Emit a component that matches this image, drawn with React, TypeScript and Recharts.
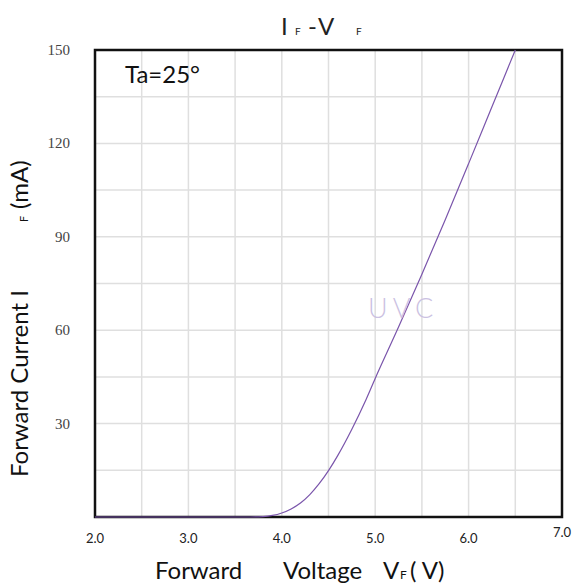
import React from "react";
import {
  LineChart,
  Line,
  XAxis,
  YAxis,
  CartesianGrid,
  ReferenceArea,
} from "recharts";

// forward voltage (V) and forward current (mA)
const voltage = [
  2.0, 3.0, 3.6, 3.8, 3.9, 4.0, 4.1, 4.2, 4.3, 4.4, 4.5, 4.6, 4.75, 4.9, 5.0,
  5.25, 5.5, 5.75, 6.0, 6.25, 6.5,
];
const current = [
  0, 0, 0, 0.15, 0.5, 1.3, 2.6, 4.5, 7.2, 10.7, 14.9, 19.8, 28.2, 37.6, 44.5,
  61, 78, 95.5, 113.5, 131.75, 150,
];

const xTicks = [2, 2.5, 3, 3.5, 4, 4.5, 5, 5.5, 6, 6.5, 7];
const yTicks = [0, 15, 30, 45, 60, 75, 90, 105, 120, 135, 150];
const yLabels = [30, 60, 90, 120, 150];

const data = voltage.map((v, i) => ({ v, i: current[i] }));

const SANS = "Lato, 'Noto Sans', sans-serif";
const W = 579;
const H = 585;

function XTick({ x, payload }: any) {
  const val = payload.value;
  if (Math.abs(val - Math.round(val)) > 0.01) return null;
  return (
    <text
      x={x}
      y={val === 7 ? 537 : 543}
      textAnchor="middle"
      fontSize={13}
      fontFamily={SANS}
      fill="#222"
    >
      {val.toFixed(1)}
    </text>
  );
}

function YTick({ y, payload }: any) {
  if (!yLabels.includes(payload.value)) return null;
  return (
    <text
      x={70}
      y={y + 5}
      textAnchor="end"
      fontSize={15}
      fontFamily="'Liberation Serif', serif"
      fill="#444"
    >
      {payload.value}
    </text>
  );
}

export default function App() {
  return (
    <div
      style={{
        position: "absolute",
        left: 0,
        top: 0,
        width: W,
        height: H,
        background: "#fff",
      }}
    >
      <LineChart
        width={W}
        height={H}
        data={data}
        margin={{ top: 50, right: 17, bottom: 0, left: 0 }}
      >
        <CartesianGrid stroke="#dfdfdf" strokeWidth={1.5} />
        <XAxis
          dataKey="v"
          type="number"
          domain={[2, 7]}
          ticks={xTicks}
          height={68}
          axisLine={false}
          tickLine={false}
          tick={<XTick />}
          interval={0}
        />
        <YAxis
          type="number"
          domain={[0, 150]}
          ticks={yTicks}
          width={95}
          axisLine={false}
          tickLine={false}
          tick={<YTick />}
          interval={0}
        />
        <Line
          type="monotone"
          dataKey="i"
          stroke="#7a55ab"
          strokeWidth={1.2}
          dot={false}
          isAnimationActive={false}
        />
        <ReferenceArea
          x1={2}
          x2={7}
          y1={0}
          y2={150}
          fill="none"
          stroke="#111"
          strokeWidth={2.5}
        />
      </LineChart>
      <svg
        width={W}
        height={H}
        style={{ position: "absolute", left: 0, top: 0, pointerEvents: "none" }}
        fontFamily={SANS}
      >
        {/* title */}
        <text x={281} y={35} fontSize={24} fill="#222">I</text>
        <text x={295} y={35} fontSize={10} fill="#222">F</text>
        <text x={308} y={35} fontSize={24} fill="#222">-</text>
        <text x={318} y={35} fontSize={24} fill="#222">V</text>
        <text x={356} y={35} fontSize={10} fill="#222">F</text>

        <text x={125} y={83} fontSize={24} fill="#111">Ta=25°</text>

        <text
          x={368}
          y={318}
          fontSize={27}
          fontWeight={300}
          letterSpacing={5}
          fill="#cbc1e2"
        >
          UVC
        </text>

        {/* y axis label */}
        <g transform="translate(28,477) rotate(-90)">
          <text x={0} y={0} fontSize={24} fill="#111">Forward Current I</text>
          <text x={255} y={0} fontSize={11} fill="#111">F</text>
          <text x={268} y={0} fontSize={24} fill="#111">(mA)</text>
        </g>

        {/* x axis label */}
        <text x={155} y={579} fontSize={24} fill="#111">Forward</text>
        <text x={283} y={579} fontSize={24} fill="#111">Voltage</text>
        <text x={383} y={579} fontSize={24} fill="#111">V</text>
        <text x={400} y={579} fontSize={12} fill="#111">F</text>
        <text x={410} y={579} fontSize={24} fill="#111">( V)</text>
      </svg>
    </div>
  );
}
